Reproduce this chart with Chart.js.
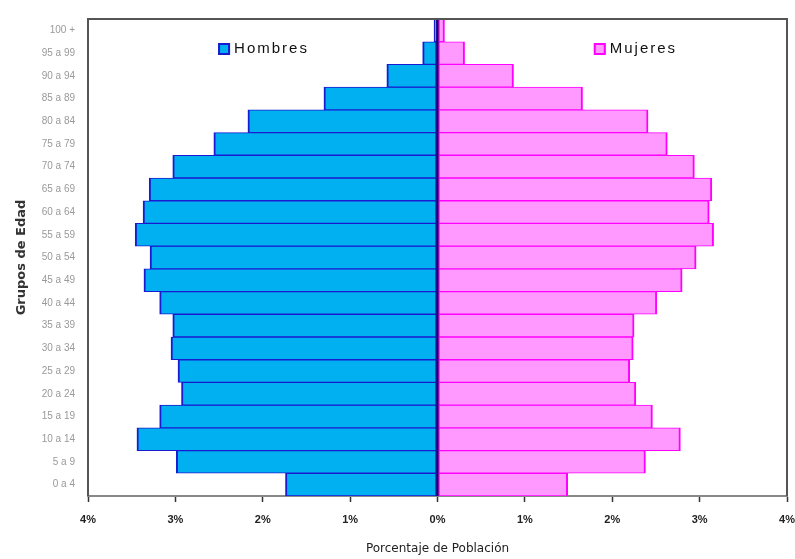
<!DOCTYPE html>
<html>
<head>
<meta charset="utf-8">
<script src="https://cdn.jsdelivr.net/npm/chart.js@4"></script>
<style>
  html, body { margin: 0; padding: 0; background: #fff; }
  #caja { width: 795px; height: 559px; }
</style>
</head>
<body>
<div id="caja"><canvas id="grafico"></canvas></div>
<script>
// DATOS
const edades = ['0 a 4', '5 a 9', '10 a 14', '15 a 19', '20 a 24', '25 a 29', '30 a 34',
                '35 a 39', '40 a 44', '45 a 49', '50 a 54', '55 a 59', '60 a 64', '65 a 69',
                '70 a 74', '75 a 79', '80 a 84', '85 a 89', '90 a 94', '95 a 99', '100 +'];
const hombres = [1.74, 2.99, 3.44, 3.18, 2.93, 2.97, 3.05, 3.03, 3.18, 3.36, 3.29,
                 3.46, 3.37, 3.30, 3.03, 2.56, 2.17, 1.30, 0.58, 0.17, 0.04];
const mujeres = [1.49, 2.38, 2.78, 2.46, 2.27, 2.20, 2.24, 2.25, 2.51, 2.80, 2.96,
                 3.16, 3.11, 3.14, 2.94, 2.63, 2.41, 1.66, 0.87, 0.31, 0.08];
const ticksX = [-4, -3, -2, -1, 0, 1, 2, 3, 4];

// Marco del área (arriba, izquierda, derecha) y línea del cero
const marco = {
    id: 'marco',
    afterDatasetsDraw(chart) {
        const { ctx, chartArea: a, scales } = chart;
        const x0 = scales.x.getPixelForValue(0);
        ctx.save();
        ctx.strokeStyle = '#10104a';
        ctx.lineWidth = 2;
        ctx.beginPath();
        ctx.moveTo(x0, a.top);
        ctx.lineTo(x0, a.bottom);
        ctx.stroke();
        ctx.strokeStyle = '#555';
        ctx.lineWidth = 2;
        ctx.beginPath();
        ctx.moveTo(a.left, a.bottom);
        ctx.lineTo(a.left, a.top);
        ctx.lineTo(a.right, a.top);
        ctx.lineTo(a.right, a.bottom);
        ctx.stroke();
        ctx.restore();
    }
};

// Leyenda dentro del gráfico
const leyenda = {
    id: 'leyenda',
    afterDraw(chart) {
        const { ctx, chartArea: a, scales } = chart;
        const y = a.top + 30;
        const items = [
            { ds: chart.data.datasets[0], v: -2.5 },
            { ds: chart.data.datasets[1], v: 1.8 }
        ];
        ctx.save();
        items.forEach(it => {
            const x = scales.x.getPixelForValue(it.v);
            ctx.fillStyle = it.ds.backgroundColor;
            ctx.strokeStyle = it.ds.borderColor;
            ctx.lineWidth = 2;
            ctx.fillRect(x - 1, y - 6, 12, 12);
            ctx.strokeRect(x, y - 5, 10, 10);
            ctx.fillStyle = '#111';
            ctx.font = '15px "Liberation Sans", Arial, sans-serif';
            ctx.letterSpacing = '2px';
            ctx.textBaseline = 'middle';
            ctx.fillText(it.ds.label, x + 15, y);
        });
        ctx.restore();
    }
};

new Chart(document.getElementById('grafico'), {
    type: 'bar',
    data: {
        labels: edades,
        datasets: [
            {
                label: 'Hombres',
                data: hombres.map(v => -v),
                backgroundColor: '#00b0f0',
                borderColor: '#1a1ad0',
                borderWidth: { left: 2, right: 2, top: 1, bottom: 1 },
                borderSkipped: false,
                barPercentage: 1,
                categoryPercentage: 1
            },
            {
                label: 'Mujeres',
                data: mujeres,
                backgroundColor: '#ff99ff',
                borderColor: '#ff00ff',
                borderWidth: { left: 2, right: 2, top: 1, bottom: 1 },
                borderSkipped: false,
                barPercentage: 1,
                categoryPercentage: 1
            }
        ]
    },
    options: {
        indexAxis: 'y',
        responsive: true,
        maintainAspectRatio: false,
        animation: false,
        layout: { padding: { top: 16, right: 0, left: 0, bottom: 0 } },
        plugins: {
            legend: { display: false },
            tooltip: { enabled: false }
        },
        scales: {
            x: {
                type: 'linear',
                stacked: true,
                min: -4,
                max: 4,
                afterBuildTicks: s => { s.ticks = ticksX.map(v => ({ value: v })); },
                afterFit: s => { s.height = 63; s.paddingRight = 8; },
                grid: {
                    drawOnChartArea: false,
                    drawTicks: true,
                    tickLength: 6,
                    tickColor: '#333',
                    tickWidth: 1.5
                },
                border: { display: true, color: '#888', width: 2 },
                ticks: {
                    padding: 11,
                    color: '#222',
                    font: { family: '"Liberation Sans", Arial, sans-serif', size: 11, weight: 'bold' },
                    callback: v => Math.abs(v) + '%'
                },
                title: {
                    display: true,
                    text: 'Porcentaje de Población',
                    color: '#222',
                    font: { family: '"DejaVu Sans", sans-serif', size: 12 },
                    padding: { top: 0, bottom: 3 }
                }
            },
            y: {
                stacked: true,
                reverse: true,
                afterFit: s => { s.width = 88; },
                grid: { display: false, drawTicks: false },
                border: { display: false },
                ticks: {
                    padding: 13,
                    color: '#999',
                    font: { family: '"Liberation Sans", Arial, sans-serif', size: 10 }
                },
                title: {
                    display: true,
                    text: 'Grupos de Edad',
                    color: '#333',
                    font: { family: '"DejaVu Sans", sans-serif', size: 13, weight: 'bold' },
                    padding: { top: 14, bottom: 0 }
                }
            }
        }
    },
    plugins: [marco, leyenda]
});
</script>
</body>
</html>
